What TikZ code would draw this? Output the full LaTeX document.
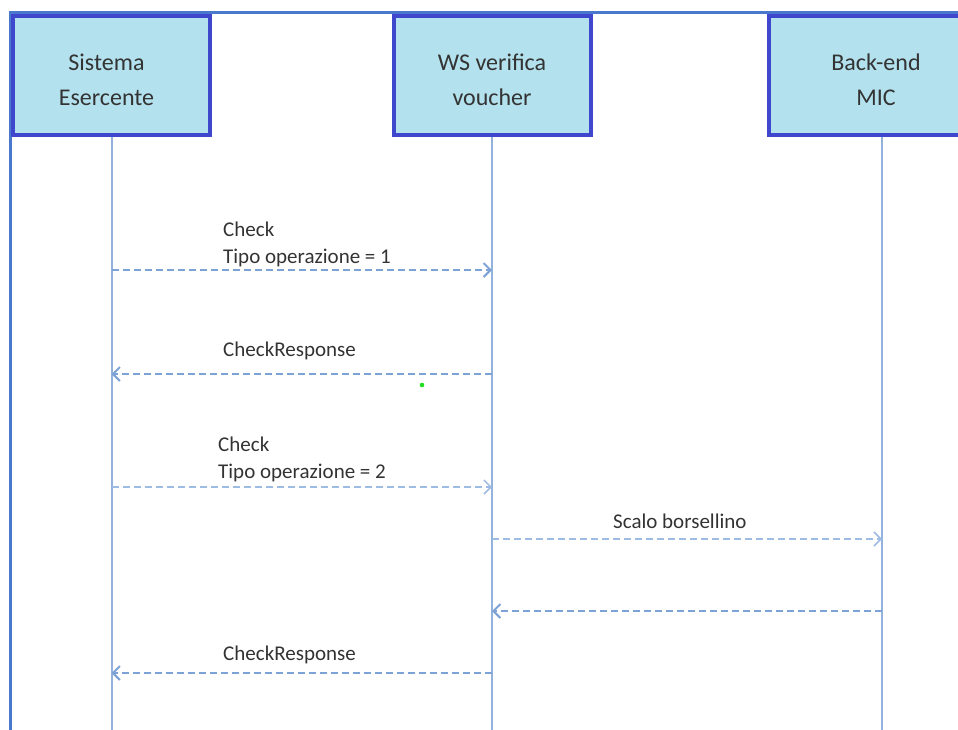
\documentclass[tikz,border=0pt]{standalone}
\usepackage{fontspec}
\setmainfont{Carlito}
\usetikzlibrary{arrows.meta}
\usetikzlibrary{positioning}
\definecolor{frameblue}{HTML}{4A78CC}
\definecolor{boxborder}{HTML}{3F48CC}
\definecolor{boxfill}{HTML}{B3E2EE}
\definecolor{lifeblue}{HTML}{93B3DD}
\definecolor{msgblue}{HTML}{7DA2D6}
\definecolor{msglight}{HTML}{9DBBE3}
\definecolor{txtgray}{HTML}{333333}
\definecolor{dotgreen}{HTML}{22DD22}

\begin{document}
\begin{tikzpicture}[
    x=1pt, y=-1pt,
    >={Straight Barb[length=7pt,width=14pt]},
    actor/.style={draw=boxborder, line width=4pt, fill=boxfill, minimum width=197pt, minimum height=119pt},
    actortxt/.style={align=center, inner sep=0pt, text=txtgray, font=\fontsize{24}{35}\selectfont},
    life/.style={draw=lifeblue, line width=2pt},
    msg/.style={draw=msgblue, line width=2pt, dash pattern=on 7pt off 4pt, ->},
    msglbl/.style={anchor=west, inner sep=0pt, align=left, text=txtgray, font=\fontsize{21}{27}\selectfont}
]
    \useasboundingbox (0,0) rectangle (958,729);

    % frame
    \draw[frameblue, line width=3pt] (10,740) -- (10,12) -- (970,12);

    % participants
    \node[actor] (sis) at (111.5,75.5) {};
    \node[actortxt] (sis_t) at ([xshift=-5pt,yshift=-4pt]sis.center) {Sistema\\Esercente};
    \node[actor] (ws) at (492,75.5) {};
    \node[actortxt] (ws_t) at ([yshift=-4pt]ws.center) {WS verifica\\voucher};
    \node[actor, minimum width=296pt] (bk) at (917,75.5) {};
    \node[actortxt] (bk_t) at ([yshift=-4pt]876,75.5) {Back-end\\MIC};
    \coordinate (bkl) at (882,137);

    % lifelines
    \coordinate (bottom) at (0,735);
    \draw[life] (sis.south) -- (sis.south |- bottom);
    \draw[life] (ws.south) -- (ws.south |- bottom);
    \draw[life] (bkl) -- (bkl |- bottom);

    % message rows
    \coordinate (r1) at (0,270);
    \coordinate (r2) at (0,374);
    \coordinate (r3) at (0,487);
    \coordinate (r4) at (0,539);
    \coordinate (r5) at (0,611);
    \coordinate (r6) at (0,673);

    \draw[msg] (sis |- r1) -- (ws |- r1);
    \node[msglbl] (l1) at (223,244.5) {Check\\Tipo operazione = 1};

    \draw[msg] (ws |- r2) -- (sis |- r2);
    \node[msglbl] (l2) at (223,351) {CheckResponse};

    \draw[msg, draw=msglight, line width=1.5pt] (sis |- r3) -- (ws |- r3);
    \node[msglbl] (l3) at (218,459.5) {Check\\Tipo operazione = 2};

    \draw[msg, draw=msglight, line width=1.5pt] (ws |- r4) -- (bkl |- r4);
    \node[msglbl] (l4) at (613,521) {Scalo borsellino};

    \draw[msg] (bkl |- r5) -- (ws |- r5);

    \draw[msg] (ws |- r6) -- (sis |- r6);
    \node[msglbl] (l6) at (223,655) {CheckResponse};

    \fill[dotgreen] (422,385) circle (2.3pt);
\end{tikzpicture}
\end{document}
